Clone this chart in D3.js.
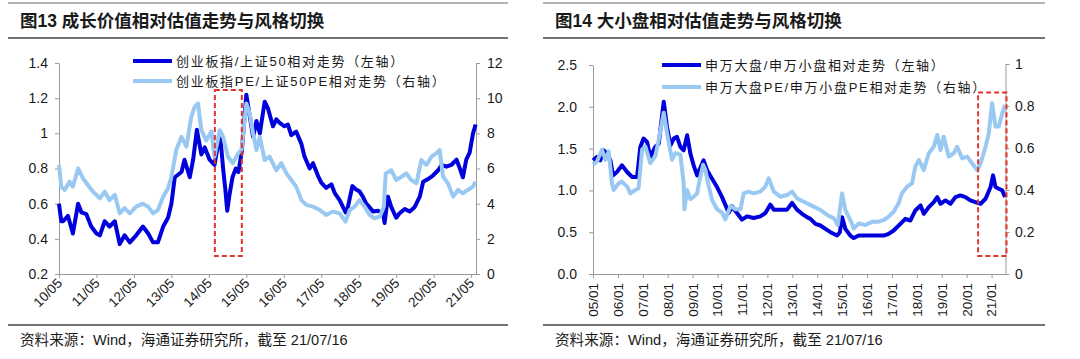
<!DOCTYPE html>
<html><head><meta charset="utf-8">
<script src="https://cdn.jsdelivr.net/npm/d3@7"></script>
<style>
body{margin:0;background:#fff}
svg{display:block}
text{font-family:"Liberation Sans","Noto Sans CJK SC",sans-serif;fill:#1a1a1a}
</style></head><body>
<svg id="c" width="1080" height="359"></svg>
<script>
// ---------- Chart 13 data ----------
const title13 = "图13 成长价值相对估值走势与风格切换";
const legend13 = ["创业板指/上证50相对走势（左轴）", "创业板指PE/上证50PE相对走势（右轴）"];
const xTicks13 = ["10/05","11/05","12/05","13/05","14/05","15/05","16/05","17/05","18/05","19/05","20/05","21/05"];
const yLeftTicks13 = ["0.2","0.4","0.6","0.8","1","1.2","1.4"];
const yRightTicks13 = ["0","2","4","6","8","10","12"];
// [decimal year, value] – ratio on left axis
const ratio13 = [[2010.42,0.60],[2010.48,0.50],[2010.53,0.50],[2010.66,0.53],[2010.79,0.43],[2010.93,0.60],[2011.02,0.55],[2011.15,0.54],[2011.28,0.47],[2011.42,0.43],[2011.51,0.42],[2011.64,0.50],[2011.77,0.47],[2011.91,0.50],[2012.04,0.37],[2012.17,0.42],[2012.31,0.38],[2012.48,0.42],[2012.66,0.47],[2012.80,0.43],[2012.93,0.38],[2013.06,0.38],[2013.20,0.47],[2013.33,0.52],[2013.42,0.60],[2013.51,0.75],[2013.69,0.78],[2013.77,0.85],[2013.91,0.75],[2014.00,0.85],[2014.10,1.02],[2014.22,0.88],[2014.31,0.92],[2014.44,0.85],[2014.57,0.82],[2014.66,0.93],[2014.73,0.97],[2014.80,0.80],[2014.86,0.68],[2014.91,0.56],[2014.97,0.65],[2015.05,0.75],[2015.14,0.80],[2015.21,0.78],[2015.30,0.90],[2015.42,1.22],[2015.51,1.10],[2015.60,0.98],[2015.69,1.07],[2015.78,1.00],[2015.91,1.18],[2016.00,1.14],[2016.13,1.04],[2016.22,1.08],[2016.31,1.06],[2016.44,1.04],[2016.53,1.05],[2016.62,0.99],[2016.75,1.01],[2016.89,0.94],[2016.97,0.87],[2017.11,0.80],[2017.20,0.83],[2017.33,0.76],[2017.42,0.72],[2017.55,0.69],[2017.69,0.71],[2017.78,0.66],[2017.91,0.62],[2018.07,0.55],[2018.13,0.58],[2018.25,0.70],[2018.35,0.68],[2018.44,0.67],[2018.53,0.64],[2018.62,0.60],[2018.71,0.58],[2018.80,0.555],[2018.93,0.56],[2019.07,0.545],[2019.11,0.49],[2019.20,0.64],[2019.29,0.58],[2019.42,0.52],[2019.51,0.545],[2019.65,0.57],[2019.78,0.555],[2019.91,0.58],[2020.05,0.64],[2020.14,0.725],[2020.27,0.74],[2020.40,0.76],[2020.54,0.79],[2020.63,0.82],[2020.76,0.81],[2020.89,0.82],[2021.03,0.85],[2021.12,0.80],[2021.20,0.75],[2021.29,0.85],[2021.38,0.89],[2021.47,1.00],[2021.54,1.05]];
// PE ratio on right axis
const pe13 = [[2010.42,6.2],[2010.48,4.97],[2010.57,4.78],[2010.70,5.25],[2010.79,4.97],[2010.93,6.0],[2011.06,5.44],[2011.19,5.06],[2011.33,4.68],[2011.51,4.3],[2011.64,4.68],[2011.77,4.2],[2011.91,4.5],[2012.04,3.45],[2012.17,3.74],[2012.31,3.45],[2012.48,3.83],[2012.66,4.0],[2012.80,3.83],[2012.93,3.45],[2013.06,3.64],[2013.20,4.4],[2013.33,4.87],[2013.42,5.53],[2013.55,7.05],[2013.69,7.8],[2013.82,7.24],[2013.95,8.94],[2014.04,9.5],[2014.13,9.7],[2014.22,8.18],[2014.35,7.6],[2014.49,8.1],[2014.57,6.67],[2014.71,8.18],[2014.80,7.8],[2014.93,6.67],[2015.06,6.3],[2015.20,6.86],[2015.29,7.05],[2015.42,9.7],[2015.51,9.13],[2015.60,8.0],[2015.69,7.05],[2015.78,7.8],[2015.91,6.48],[2016.04,6.67],[2016.22,5.9],[2016.35,6.3],[2016.49,5.72],[2016.62,5.35],[2016.75,4.97],[2016.89,4.2],[2017.02,3.93],[2017.20,3.83],[2017.38,3.64],[2017.55,3.36],[2017.73,3.55],[2017.91,3.45],[2018.07,2.98],[2018.18,3.64],[2018.31,3.83],[2018.44,4.2],[2018.58,3.83],[2018.71,3.36],[2018.84,3.17],[2018.98,3.26],[2019.09,3.83],[2019.14,5.72],[2019.29,5.9],[2019.42,5.35],[2019.56,5.53],[2019.69,5.72],[2019.82,5.35],[2019.96,5.16],[2020.09,6.48],[2020.23,6.2],[2020.36,6.67],[2020.49,6.86],[2020.58,7.05],[2020.67,5.53],[2020.80,5.16],[2020.94,4.4],[2021.07,4.78],[2021.20,4.59],[2021.33,4.78],[2021.47,4.97],[2021.54,5.25]];
// highlight box [t0, t1, vTop, vBottom] on left axis
const box13 = [2014.58, 2015.30, 1.246, 0.302];

// ---------- Chart 14 data ----------
const title14 = "图14 大小盘相对估值走势与风格切换";
const legend14 = ["申万大盘/申万小盘相对走势（左轴）", "申万大盘PE/申万小盘PE相对走势（右轴）"];
const xTicks14 = ["05/01","06/01","07/01","08/01","09/01","10/01","11/01","12/01","13/01","14/01","15/01","16/01","17/01","18/01","19/01","20/01","21/01"];
const yLeftTicks14 = ["0.0","0.5","1.0","1.5","2.0","2.5"];
const yRightTicks14 = ["0","0.2","0.4","0.6","0.8","1"];
const ratio14 = [[2005.00,1.36],[2005.16,1.40],[2005.29,1.36],[2005.43,1.48],[2005.56,1.44],[2005.70,1.36],[2005.80,1.18],[2005.96,1.22],[2006.16,1.30],[2006.37,1.22],[2006.57,1.16],[2006.77,1.16],[2006.90,1.52],[2007.03,1.62],[2007.17,1.58],[2007.30,1.40],[2007.50,1.52],[2007.64,1.56],[2007.84,2.06],[2007.97,1.76],[2008.11,1.54],[2008.24,1.62],[2008.37,1.64],[2008.51,1.52],[2008.64,1.48],[2008.78,1.66],[2008.91,1.44],[2009.04,1.30],[2009.18,1.18],[2009.44,1.36],[2009.58,1.24],[2009.78,1.14],[2009.98,1.04],[2010.18,0.92],[2010.31,0.83],[2010.45,0.73],[2010.58,0.81],[2010.78,0.73],[2010.98,0.65],[2011.18,0.69],[2011.45,0.67],[2011.72,0.69],[2011.92,0.73],[2012.12,0.83],[2012.26,0.77],[2012.52,0.77],[2012.79,0.77],[2012.99,0.85],[2013.19,0.77],[2013.39,0.72],[2013.59,0.68],[2013.73,0.66],[2013.93,0.60],[2014.13,0.58],[2014.33,0.54],[2014.53,0.50],[2014.80,0.46],[2014.91,0.50],[2015.00,0.68],[2015.13,0.54],[2015.33,0.46],[2015.47,0.43],[2015.67,0.46],[2015.87,0.46],[2016.14,0.46],[2016.41,0.46],[2016.67,0.46],[2016.87,0.48],[2017.07,0.52],[2017.34,0.60],[2017.54,0.66],[2017.74,0.64],[2017.94,0.76],[2018.15,0.82],[2018.28,0.72],[2018.48,0.80],[2018.68,0.86],[2018.82,0.92],[2018.95,0.84],[2019.15,0.88],[2019.35,0.84],[2019.55,0.92],[2019.75,0.94],[2019.95,0.92],[2020.15,0.88],[2020.35,0.86],[2020.56,0.84],[2020.76,0.90],[2020.96,1.04],[2021.06,1.18],[2021.16,1.04],[2021.29,1.02],[2021.43,1.00],[2021.54,0.92]];
const pe14 = [[2005.00,0.52],[2005.16,0.536],[2005.36,0.592],[2005.50,0.544],[2005.63,0.584],[2005.76,0.432],[2005.83,0.40],[2006.03,0.432],[2006.16,0.44],[2006.37,0.416],[2006.50,0.384],[2006.70,0.40],[2006.83,0.408],[2006.97,0.592],[2007.10,0.608],[2007.30,0.528],[2007.50,0.56],[2007.64,0.64],[2007.84,0.768],[2007.97,0.672],[2008.17,0.544],[2008.31,0.576],[2008.51,0.568],[2008.64,0.432],[2008.67,0.308],[2008.78,0.40],[2008.91,0.356],[2009.04,0.368],[2009.18,0.384],[2009.28,0.448],[2009.42,0.52],[2009.51,0.496],[2009.65,0.416],[2009.78,0.352],[2009.98,0.308],[2010.18,0.292],[2010.31,0.26],[2010.52,0.324],[2010.72,0.308],[2010.92,0.308],[2011.05,0.384],[2011.25,0.392],[2011.45,0.384],[2011.72,0.392],[2011.92,0.416],[2012.05,0.456],[2012.26,0.392],[2012.52,0.368],[2012.79,0.376],[2012.99,0.392],[2013.19,0.36],[2013.33,0.352],[2013.59,0.337],[2013.86,0.321],[2014.13,0.305],[2014.40,0.281],[2014.67,0.265],[2014.83,0.233],[2015.00,0.384],[2015.13,0.305],[2015.33,0.257],[2015.47,0.217],[2015.67,0.241],[2015.94,0.233],[2016.20,0.249],[2016.47,0.249],[2016.67,0.257],[2016.87,0.273],[2017.07,0.297],[2017.27,0.337],[2017.40,0.384],[2017.61,0.416],[2017.81,0.432],[2017.94,0.511],[2018.08,0.543],[2018.28,0.495],[2018.48,0.575],[2018.68,0.606],[2018.82,0.662],[2018.95,0.590],[2019.08,0.654],[2019.28,0.559],[2019.48,0.575],[2019.62,0.606],[2019.82,0.551],[2020.02,0.559],[2020.22,0.527],[2020.42,0.495],[2020.56,0.527],[2020.76,0.606],[2020.89,0.670],[2021.02,0.813],[2021.16,0.702],[2021.29,0.702],[2021.43,0.765],[2021.54,0.805]];
const box14 = [2020.46, 2021.60, 2.17, 0.215];

const sourceText = "资料来源：Wind，海通证券研究所，截至 21/07/16";
const DARK = "#0000DC", LIGHT = "#99C9F2", AXIS = "#9a9a9a", RED = "#E0342C";

const svg = d3.select("#c");

function chart(o){
  const g = svg.append("g");
  // header / footer rules
  g.append("line").attr("x1",o.rx0).attr("x2",o.rx1).attr("y1",3).attr("y2",3).attr("stroke","#666").attr("stroke-width",1);
  g.append("line").attr("x1",o.rx0).attr("x2",o.rx1).attr("y1",38).attr("y2",38).attr("stroke","#444").attr("stroke-width",1.5);
  g.append("line").attr("x1",o.rx0).attr("x2",o.rx1).attr("y1",325).attr("y2",325).attr("stroke","#444").attr("stroke-width",1.5);
  g.append("text").attr("x",o.tx).attr("y",21).attr("dominant-baseline","central")
    .attr("font-size","17.5px").attr("font-weight","bold").attr("fill","#111").text(o.title);
  g.append("text").attr("x",o.tx).attr("y",340).attr("dominant-baseline","central")
    .attr("font-size","14.6px").attr("fill","#222").text(sourceText);

  const t0 = o.ratio[0][0];
  const x = d3.scaleLinear().domain([t0, o.tEnd]).range([o.x0, o.x1]);
  const yL = d3.scaleLinear().domain([+o.yl[0], +o.yl[o.yl.length-1]]).range([o.y1, o.y0L]);
  const yR = d3.scaleLinear().domain([+o.yr[0], +o.yr[o.yr.length-1]]).range([o.y1, o.y0R]);

  // axes
  const ax = g.append("g").attr("transform",`translate(0,${o.y1})`)
    .call(d3.axisBottom(x).tickValues(o.xt.map((s,i)=>t0+i)).tickSize(4).tickSizeOuter(0).tickFormat(""));
  const al = g.append("g").attr("transform",`translate(${o.x0},0)`)
    .call(d3.axisLeft(yL).tickValues(o.yl.map(Number)).tickFormat((d,i)=>o.yl[i]).tickSize(4).tickSizeOuter(0).tickPadding(o.padL));
  const ar = g.append("g").attr("transform",`translate(${o.x1},0)`)
    .call(d3.axisRight(yR).tickValues(o.yr.map(Number)).tickFormat((d,i)=>o.yr[i]).tickSize(4).tickSizeOuter(0).tickPadding(o.padR));
  [ax,al,ar].forEach(a=>{
    a.select(".domain").attr("stroke",AXIS);
    a.selectAll(".tick line").attr("stroke",AXIS);
    a.selectAll("text").attr("font-size","14px").attr("fill","#222")
      .attr("font-family","'Liberation Sans',sans-serif");
  });
  // x labels
  o.xt.forEach((s,i)=>{
    const px = x(t0+i);
    const t = g.append("text").attr("font-size","13.5px").attr("text-anchor","end").attr("fill","#222").text(s);
    if(o.rot===45){
      t.attr("transform",`translate(${px+4},${o.y1+10}) rotate(-45)`);
    } else {
      t.attr("transform",`translate(${px},${o.y1+9}) rotate(-90)`).attr("dy","0.36em");
    }
  });

  // lines
  const lineL = d3.line().x(d=>x(d[0])).y(d=>yL(d[1])).curve(d3.curveLinear);
  const lineR = d3.line().x(d=>x(d[0])).y(d=>yR(d[1])).curve(d3.curveLinear);
  g.append("path").datum(o.ratio).attr("d",lineL).attr("fill","none").attr("stroke",DARK).attr("stroke-width",4).attr("stroke-linejoin","round");
  g.append("path").datum(o.pe).attr("d",lineR).attr("fill","none").attr("stroke",LIGHT).attr("stroke-width",4).attr("stroke-linejoin","round");

  // highlight box
  const b = o.box;
  g.append("rect").attr("x",x(b[0])).attr("y",yL(b[2])).attr("width",x(b[1])-x(b[0])).attr("height",yL(b[3])-yL(b[2]))
    .attr("fill","none").attr("stroke",RED).attr("stroke-width",2).attr("stroke-dasharray","5,3");

  // legend
  [[DARK,o.legend[0]],[LIGHT,o.legend[1]]].forEach((l,i)=>{
    const ly = o.ly + i*o.lgap;
    g.append("line").attr("x1",o.lx).attr("x2",o.lx+39).attr("y1",ly).attr("y2",ly).attr("stroke",l[0]).attr("stroke-width",4);
    g.append("text").attr("x",o.lx+43).attr("y",ly).attr("dominant-baseline","central").attr("font-size","13px")
      .attr("letter-spacing","1.7px").attr("fill","#222").text(l[1]);
  });
}

chart({rx0:8, rx1:508, tx:20, title:title13, ratio:ratio13, pe:pe13, tEnd:2021.55,
  x0:59, x1:476, y0L:63, y0R:63, y1:274, yl:yLeftTicks13, yr:yRightTicks13, xt:xTicks13, rot:45,
  padL:7, padR:7, box:box13, legend:legend13, lx:133, ly:61, lgap:20});
chart({rx0:543, rx1:1045, tx:555, title:title14, ratio:ratio14, pe:pe14, tEnd:2021.56,
  x0:593, x1:1005.5, y0L:65, y0R:64, y1:274, yl:yLeftTicks14, yr:yRightTicks14, xt:xTicks14, rot:90,
  padL:12, padR:5.5, box:box14, legend:legend14, lx:662, ly:65, lgap:22});
</script>
</body></html>
